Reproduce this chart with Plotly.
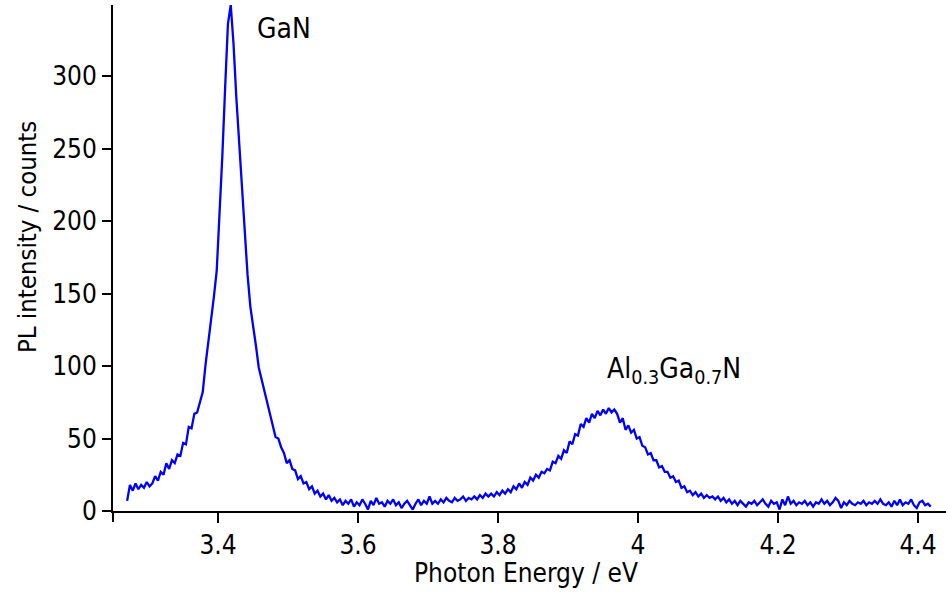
import numpy as np
import plotly.graph_objects as go

# Photon energy grid (eV): start, step, number of samples
e_start = 3.2702
e_step = 0.004

# PL intensity (counts), one value per grid step
intensity = [
    7, 18, 14, 19, 15, 18, 16, 20, 17, 19,
    24, 21, 27, 25, 33, 29, 35, 33, 39, 38,
    47, 46, 58, 57, 67, 68, 75, 82, 101, 116,
    130, 148, 166, 203, 245, 292, 336, 349, 322, 285,
    255, 224, 188, 163, 141, 129, 114, 99, 91, 85,
    76, 68, 59, 51, 50, 44, 40, 33, 35, 29,
    28, 22, 24, 19, 20, 15, 17, 12, 14, 10,
    12, 8, 11, 7, 9, 6, 8, 4, 7, 5,
    8, 3, 6, 4, 8, 5, 1, 7, 4, 9,
    5, 6, 3, 7, 5, 8, 4, 6, 2, 5,
    7, 4, 1, 5, 8, 4, 7, 5, 10, 5,
    7, 5, 8, 6, 9, 7, 6, 9, 7, 8,
    10, 7, 9, 8, 10, 8, 11, 9, 12, 10,
    12, 10, 13, 11, 14, 12, 15, 13, 17, 15,
    19, 16, 20, 18, 23, 21, 25, 23, 27, 26,
    29, 28, 34, 33, 38, 36, 42, 40, 48, 46,
    53, 52, 60, 58, 64, 61, 67, 64, 69, 66,
    70, 67, 71, 68, 70, 67, 61, 64, 56, 59,
    54, 56, 50, 51, 45, 44, 39, 40, 35, 35,
    30, 31, 27, 27, 23, 24, 20, 21, 16, 17,
    13, 14, 11, 13, 10, 12, 9, 11, 9, 10,
    8, 10, 7, 9, 6, 8, 5, 7, 4, 7,
    5, 3, 6, 5, 7, 4, 6, 8, 5, 3,
    7, 5, 6, 1, 8, 4, 10, 5, 7, 4,
    6, 5, 7, 4, 6, 3, 6, 5, 8, 5,
    7, 4, 6, 9, 7, 2, 6, 4, 7, 5,
    4, 6, 5, 7, 4, 6, 5, 7, 5, 8,
    5, 4, 6, 3, 7, 4, 8, 4, 6, 5,
    8, 4, 2, 6, 7, 4, 5, 3,
]
energy = np.round(e_start + e_step * np.arange(len(intensity)), 4)

x_tick_vals = [3.4, 3.6, 3.8, 4.0, 4.2, 4.4]
x_tick_text = ["3.4", "3.6", "3.8", "4", "4.2", "4.4"]
y_tick_vals = [0, 50, 100, 150, 200, 250, 300]

FONT = "DejaVu Sans Condensed, DejaVu Sans"

fig = go.Figure()
fig.add_trace(go.Scatter(
    x=energy, y=intensity, mode="lines",
    line=dict(color="#0000ff", width=2.3),
    showlegend=False, hoverinfo="skip",
))

axis_common = dict(
    showline=True, linecolor="black", linewidth=2,
    ticks="outside", tickcolor="black", tickwidth=2,
    showgrid=False, zeroline=False, automargin=False,
    tickfont=dict(family=FONT, size=26, color="black"),
)

fig.update_layout(
    width=946, height=592,
    margin=dict(l=113, r=0, t=5, b=81),
    paper_bgcolor="white", plot_bgcolor="white",
    font=dict(family=FONT, color="black"),
    xaxis=dict(range=[3.25, 4.44], tickvals=x_tick_vals, ticktext=x_tick_text,
               ticklen=10, **axis_common),
    yaxis=dict(range=[0, 349], tickvals=y_tick_vals, ticklen=9, **axis_common),
    annotations=[
        dict(text="Photon Energy / eV", xref="paper", yref="paper",
             x=0.4958, y=-0.123, xanchor="center", yanchor="middle",
             showarrow=False, font=dict(family=FONT, size=26, color="black")),
        dict(text="PL intensity / counts", xref="paper", yref="paper",
             x=-0.1032, y=0.5415, xanchor="center", yanchor="middle",
             textangle=-90, showarrow=False,
             font=dict(family=FONT, size=25.5, color="black")),
        dict(text="GaN", x=3.494, y=333, xref="x", yref="y",
             xanchor="center", yanchor="middle", showarrow=False,
             font=dict(family=FONT, size=28, color="black")),
        dict(text="Al<sub>0.3</sub>Ga<sub>0.7</sub>N", x=4.052, y=97,
             xref="x", yref="y", xanchor="center", yanchor="middle",
             showarrow=False, font=dict(family=FONT, size=28, color="black")),
    ],
    shapes=[
        dict(type="line", xref="paper", yref="paper", x0=0, x1=0,
             y0=0, y1=-0.0217, line=dict(color="black", width=2)),
    ],
)

fig.write_html("out.html",
               config={"displayModeBar": False},
               post_script="document.body.style.margin='0';")
